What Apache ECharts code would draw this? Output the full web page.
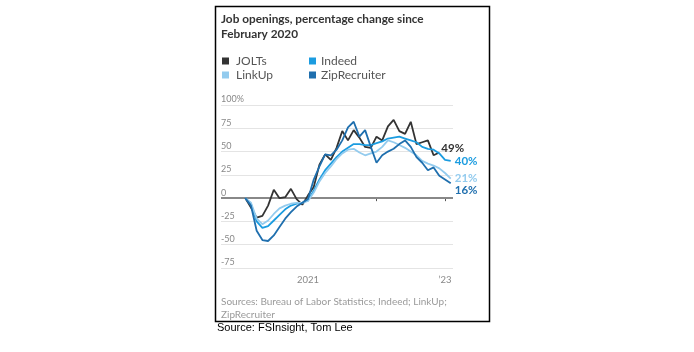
<!DOCTYPE html>
<html>
<head>
<meta charset="utf-8">
<script src="https://cdn.jsdelivr.net/npm/echarts@6/dist/echarts.min.js"></script>
<style>
  html, body { margin: 0; padding: 0; background: #fff; }
  #chart { width: 694px; height: 352px; }
</style>
</head>
<body>
<div id="chart"></div>
<script>
// month index: 0 = Jan 2020, series start Feb 2020
const startMonth = 1;
const seriesNames = ['JOLTs', 'Indeed', 'LinkUp', 'ZipRecruiter'];
const jolts = [0, -10, -21, -19, -8, 9, 0, 1, 10, -1, -7, 3, 12, 36, 47, 41, 54, 72, 62, 73, 65, 55, 54, 66, 62, 77, 84, 72, 69, 82, 58, 60, 62, 46, 49];
const indeed = [0, -6, -25, -32, -30, -24, -18, -12, -8, -6, -5, -2, 8, 20, 30, 37, 44, 50, 54, 58, 58, 57, 57, 59, 61, 64, 65, 66, 64, 62, 60, 55, 53, 52, 48, 41, 40];
const linkup = [0, -5, -22, -28, -24, -17, -11, -8, -6, -5, -5, -3, 6, 18, 27, 34, 42, 48, 52, 53, 49, 46, 48, 50, 55, 62, 60, 57, 54, 50, 46, 40, 37, 35, 32, 27, 21];
const zip = [0, -8, -35, -45, -46, -40, -31, -22, -15, -9, -5, -1, 20, 34, 47, 46, 52, 62, 76, 82, 66, 73, 55, 38, 46, 50, 53, 58, 62, 55, 44, 38, 30, 33, 24, 20, 16];
const endLabels = ['49%', '40%', '21%', '16%'];
const tickMonths = [12, 24, 36];
const labelMonths = [12, 36];
const tickText = { 12: '2021', 36: '\u201923' };

const colors = ['#333333', '#1b9ce0', '#93cbee', '#1f6fae'];

function toPoints(arr) {
  return arr.map((v, i) => [startMonth + i, v]);
}

const chart = echarts.init(document.getElementById('chart'));

const lineSeries = (name, data, color, label, offset) => ({
  name: name,
  type: 'line',
  data: toPoints(data),
  showSymbol: false,
  lineStyle: { width: 1.8, color: color },
  itemStyle: { color: color },
  emphasis: { disabled: true },
  z: 3,
  endLabel: {
    show: true,
    formatter: label,
    color: color,
    fontFamily: 'Lato',
    fontWeight: 'bold',
    fontSize: 11.5,
    distance: 4,
    offset: offset
  }
});

const legendBase = {
  orient: 'vertical',
  top: 55,
  padding: 0,
  icon: 'rect',
  itemWidth: 7,
  itemHeight: 7,
  itemGap: 2,
  selectedMode: false
};

chart.setOption({
  animation: false,
  color: colors,
  title: {
    text: 'Job openings, percentage change since\nFebruary 2020',
    left: 221,
    top: 11.5,
    padding: 0,
    textStyle: { fontFamily: 'Lato', fontSize: 11.8, fontWeight: 'bold', color: '#333', lineHeight: 15 }
  },
  legend: [
    Object.assign({}, legendBase, {
      left: 222,
      data: ['JOLTs', 'LinkUp'],
      textStyle: { fontFamily: 'Lato', fontSize: 12, color: '#555', padding: [0, 0, 0, 2] }
    }),
    Object.assign({}, legendBase, {
      left: 309,
      data: ['Indeed', 'ZipRecruiter'],
      textStyle: { fontFamily: 'Lato', fontSize: 12, color: '#555' }
    })
  ],
  grid: { left: 221, right: 241, top: 105, bottom: 84 },
  xAxis: {
    type: 'value',
    min: -3.25,
    max: 37.4,
    axisLine: { show: false },
    splitLine: { show: false },
    axisTick: { show: true, length: 3, customValues: tickMonths, lineStyle: { color: '#555' } },
    axisLabel: {
      customValues: labelMonths,
      formatter: v => tickText[v] || '',
      color: '#888',
      fontFamily: 'Lato',
      fontSize: 9.5,
      margin: 7
    }
  },
  yAxis: {
    type: 'value',
    min: -75,
    max: 100,
    interval: 25,
    axisLine: { show: false },
    axisTick: { show: false },
    splitLine: { lineStyle: { color: '#e4e4e4', width: 1 } },
    axisLabel: {
      inside: true,
      margin: 0,
      verticalAlign: 'bottom',
      padding: [0, 0, 1, 0],
      color: '#888',
      fontFamily: 'Lato',
      fontSize: 9,
      formatter: v => (v === 100 ? '100%' : String(v))
    }
  },
  series: [
    Object.assign(lineSeries(seriesNames[0], jolts, colors[0], endLabels[0], [-2, -4]), {
      markLine: {
        silent: true,
        symbol: 'none',
        label: { show: false },
        lineStyle: { color: '#888', width: 2, type: 'solid' },
        data: [{ yAxis: 0 }],
        z: 2
      }
    }),
    lineSeries(seriesNames[1], indeed, colors[1], endLabels[1], [0, 0]),
    lineSeries(seriesNames[2], linkup, colors[2], endLabels[2], [0, 0]),
    lineSeries(seriesNames[3], zip, colors[3], endLabels[3], [0, 7])
  ],
  graphic: [
    {
      type: 'rect',
      shape: { x: 215.5, y: 6.5, width: 274, height: 315 },
      style: { fill: 'none', stroke: '#000', lineWidth: 1.5 },
      silent: true
    },
    {
      type: 'text',
      left: 221,
      top: 295,
      style: {
        text: 'Sources: Bureau of Labor Statistics; Indeed; LinkUp;\nZipRecruiter',
        fill: '#9a9a9a',
        font: '10px Lato',
        lineHeight: 13
      }
    },
    {
      type: 'text',
      left: 217,
      top: 322.5,
      style: {
        text: 'Source: FSInsight, Tom Lee',
        fill: '#000',
        font: '11px "Liberation Sans"'
      }
    }
  ]
});
</script>
</body>
</html>
